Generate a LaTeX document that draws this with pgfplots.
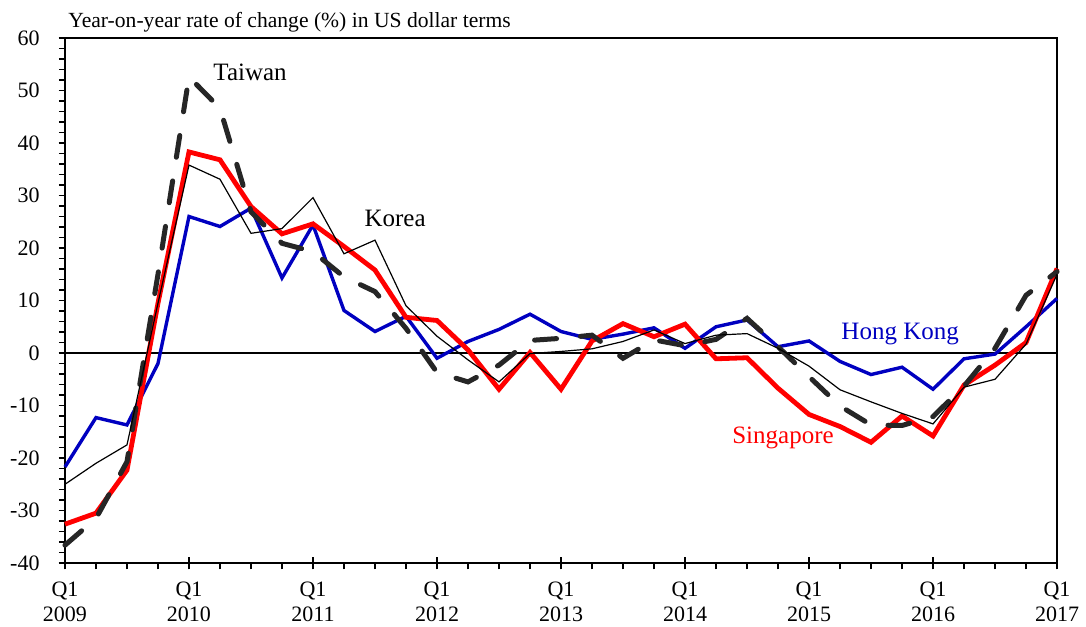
\documentclass[border=0pt]{standalone}
\usepackage{pgfplots}
\pgfplotsset{compat=1.18}
\usepackage{pgfplotstable}
\usepackage{fontspec}
\setmainfont{Liberation Serif}
\definecolor{hkblue}{RGB}{0,0,192}
\definecolor{twgray}{RGB}{38,38,38}

% quarter index: 0 = Q1 2009 ... 32 = Q1 2017
\pgfplotstableread{
q    tw     sg     hk     kr
0  -36.6  -32.6  -21.7  -25.0
1  -31.5  -30.5  -12.3  -21.0
2  -20.7  -22.3  -13.7  -17.5
3   15.0    9.5   -2.0    9.5
4   52.6   38.3   26.0   35.8
5   46.6   36.8   24.1   33.1
6   26.9   27.9   27.6   22.8
7   20.9   22.7   14.3   23.7
8   19.3   24.6   24.4   29.6
9   14.5   20.3    8.1   18.9
10  11.7   15.8    4.1   21.5
11   4.7    6.8    7.0    9.0
12  -3.7    6.2   -1.0    3.2
13  -5.5    0.6    2.2   -1.3
14  -2.3   -6.9    4.5   -5.5
15   2.4    0.1    7.4   -0.1
16   2.8   -6.9    4.1    0.3
17   3.4    2.3    2.6    0.8
18  -1.0    5.6    3.6    2.2
19   2.5    3.1    4.8    4.4
20   1.4    5.5    0.9    1.8
21   2.6   -1.1    5.0    3.4
22   6.6   -0.9    6.3    3.7
23   1.2   -6.7    1.2    0.9
24  -4.5  -11.7    2.3   -2.5
25 -10.1  -14.0   -1.6   -7.0
26 -13.7  -17.0   -4.1   -9.3
27 -13.8  -12.0   -2.7  -11.5
28 -12.1  -15.8   -6.9  -13.5
29  -6.3   -6.1   -1.1   -6.5
30   0.9   -2.3   -0.2   -5.0
31  11.0    2.0    5.0    1.7
32  15.5   16.1   10.4   15.0
}\trade

\begin{document}
\begin{tikzpicture}
\begin{axis}[
    scale only axis,
    width=496pt, height=262.5pt,
    xmin=0, xmax=32, ymin=-40, ymax=60,
    axis line style={line width=1.1pt},
    xtick={0,...,32}, xticklabels={}, xtick pos=bottom,
    extra x ticks={0,4,...,32},
    extra x tick labels={{Q1\\2009},{Q1\\2010},{Q1\\2011},{Q1\\2012},{Q1\\2013},{Q1\\2014},{Q1\\2015},{Q1\\2016},{Q1\\2017}},
    extra x tick style={tick align=center, major tick length=6pt,
        tick label style={yshift=-3pt}},
    ytick={-40,-30,...,60}, minor y tick num=4, ytick pos=left,
    yticklabel={\pgfmathprintnumber{\tick}\hspace*{6pt}},
    tick align=outside, major tick length=3.2pt, minor tick length=3pt,
    tick style={black, line width=0.8pt},
    ticklabel style={font=\fontsize{11}{12.5}\selectfont},
    xticklabel style={align=center},
    /pgf/number format/assume math mode=true,
    clip=false,
]
\addplot[black, line width=0.9pt] coordinates {(0,0) (32,0)};
\addplot[hkblue, line width=1.7pt] table[x=q, y=hk] {\trade};
\addplot[red, line width=2.4pt] table[x=q, y=sg] {\trade};
\addplot[twgray, line width=2.5pt, line cap=round, dash pattern=on 11pt off 12pt] table[x=q, y=tw] {\trade};
\addplot[black, line width=0.6pt] table[x=q, y=kr] {\trade};

\node[font=\fontsize{12.5}{14}\selectfont] at (axis cs:5.97,53.5) {Taiwan};
\node[font=\fontsize{12.5}{14}\selectfont] at (axis cs:10.65,25.7) {Korea};
\node[font=\fontsize{12.5}{14}\selectfont, text=hkblue] at (axis cs:26.94,3.6) {Hong Kong};
\node[font=\fontsize{12.5}{14}\selectfont, text=red] at (axis cs:23.16,-16.2) {Singapore};
\node[font=\fontsize{10.8}{12}\selectfont, anchor=base west, inner sep=0pt] at ([yshift=5.5pt]rel axis cs:0.003,1) {Year-on-year rate of change (\%) in US dollar terms};

\coordinate (bl) at (rel axis cs:-0.0655,-0.12);
\coordinate (tr) at (rel axis cs:1.0292,1.0724);
\end{axis}
\pgfresetboundingbox
\useasboundingbox (bl) rectangle (tr);
\end{tikzpicture}
\end{document}
